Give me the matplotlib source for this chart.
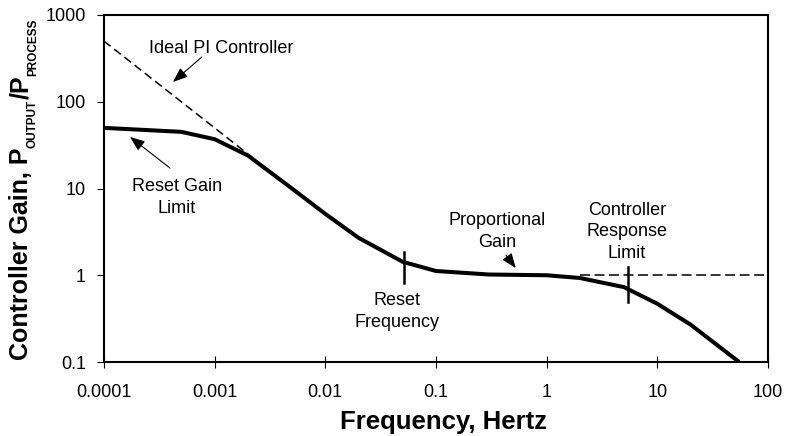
import matplotlib
matplotlib.use('Agg')
import matplotlib.pyplot as plt
from matplotlib.ticker import FixedLocator, NullLocator
from matplotlib.transforms import IdentityTransform

plt.rcParams['font.family'] = ['Liberation Sans', 'DejaVu Sans']

# Controller gain curve (frequency in Hz, gain ratio)
freq = [0.0001, 0.0005, 0.001, 0.002, 0.005, 0.01, 0.02, 0.05, 0.1, 0.3,
        1, 2, 5, 10, 20, 55]
gain = [50, 45, 37, 24, 10, 5.1, 2.7, 1.43, 1.12, 1.02,
        1.0, 0.93, 0.73, 0.47, 0.27, 0.1]

# Ideal PI controller asymptote and proportional gain extension
ideal_freq = [0.0001, 0.0022]
ideal_gain = [500, 22.7]
prop_freq = [2, 100]
prop_gain = [1, 1]

# Marker bars: reset frequency and controller response limit
reset_freq = 0.052
reset_bar = [0.82, 1.85]
limit_freq = 5.4
limit_bar = [0.49, 1.25]

xticks = [0.0001, 0.001, 0.01, 0.1, 1, 10, 100]
xticklabels = ['0.0001', '0.001', '0.01', '0.1', '1', '10', '100']
yticks = [0.1, 1, 10, 100, 1000]
yticklabels = ['0.1', '1', '10', '100', '1000']

fig = plt.figure(figsize=(7.9, 4.36), dpi=100)
ax = fig.add_axes([0.1316, 0.1697, 0.8404, 0.7959])

ax.plot(freq, gain, color='black', linewidth=2.9, solid_capstyle='butt')
ax.plot(ideal_freq, ideal_gain, color='black', linewidth=1.1,
        linestyle=(0, (5.5, 3)))
ax.plot(prop_freq, prop_gain, color='black', linewidth=1.1,
        linestyle=(0, (6.5, 3)))

ax.plot([reset_freq] * 2, reset_bar, color='black', linewidth=1.8)
ax.plot([limit_freq] * 2, limit_bar, color='black', linewidth=1.8)

ax.set_xscale('log')
ax.set_yscale('log')
ax.set_xlim(0.0001, 100)
ax.set_ylim(0.1, 1000)

ax.xaxis.set_major_locator(FixedLocator(xticks))
ax.xaxis.set_minor_locator(NullLocator())
ax.set_xticklabels(xticklabels)
ax.yaxis.set_major_locator(FixedLocator(yticks))
ax.yaxis.set_minor_locator(NullLocator())
ax.set_yticklabels(yticklabels)

ax.tick_params(axis='x', direction='inout', length=8, width=0.8,
               labelsize=13, pad=11.5)
ax.tick_params(axis='y', direction='out', length=5, width=0.8,
               labelsize=13, pad=8)
for s in ax.spines.values():
    s.set_linewidth(1.5)

ax.set_xlabel('Frequency, Hertz', fontsize=18.5, fontweight='bold')
ax.xaxis.set_label_coords(0.511, -0.138)

# y label assembled piece by piece so the subscripts can be small
renderer = fig.canvas.get_renderer()
pieces = [('Controller Gain, P', 18, 28), ('OUTPUT', 8.5, 36),
          ('/P', 18, 28), ('PROCESS', 8.5, 36)]
ypos = 76
for s, size, xbase in pieces:
    t = fig.text(xbase, ypos, s, fontsize=size, fontweight='bold',
                 rotation=90, rotation_mode='anchor', ha='left',
                 va='baseline', transform=IdentityTransform())
    ypos += t.get_window_extent(renderer).height

arrow = dict(arrowstyle='-|>,head_length=0.9,head_width=0.35', color='black',
             linewidth=0.8, shrinkA=0, shrinkB=0)
txt = dict(fontsize=13, ha='center', va='baseline', linespacing=1.35)

ax.text(0.00114, 367, 'Ideal PI Controller', **txt)
ax.annotate('', xy=(0.00042, 169), xytext=(0.000767, 328), arrowprops=arrow)

ax.text(0.000457, 5.22, 'Reset Gain\nLimit', **txt)
ax.annotate('', xy=(0.000172, 39.3), xytext=(0.000395, 17.2), arrowprops=arrow)

ax.text(0.0444, 0.253, 'Reset\nFrequency', **txt)

ax.text(0.355, 2.12, 'Proportional\nGain', **txt)
ax.annotate('', xy=(0.527, 1.21), xytext=(0.43, 1.71), arrowprops=arrow)

ax.text(5.3, 1.58, 'Controller\nResponse\nLimit', **txt)

fig.savefig('out.png', dpi=100)
